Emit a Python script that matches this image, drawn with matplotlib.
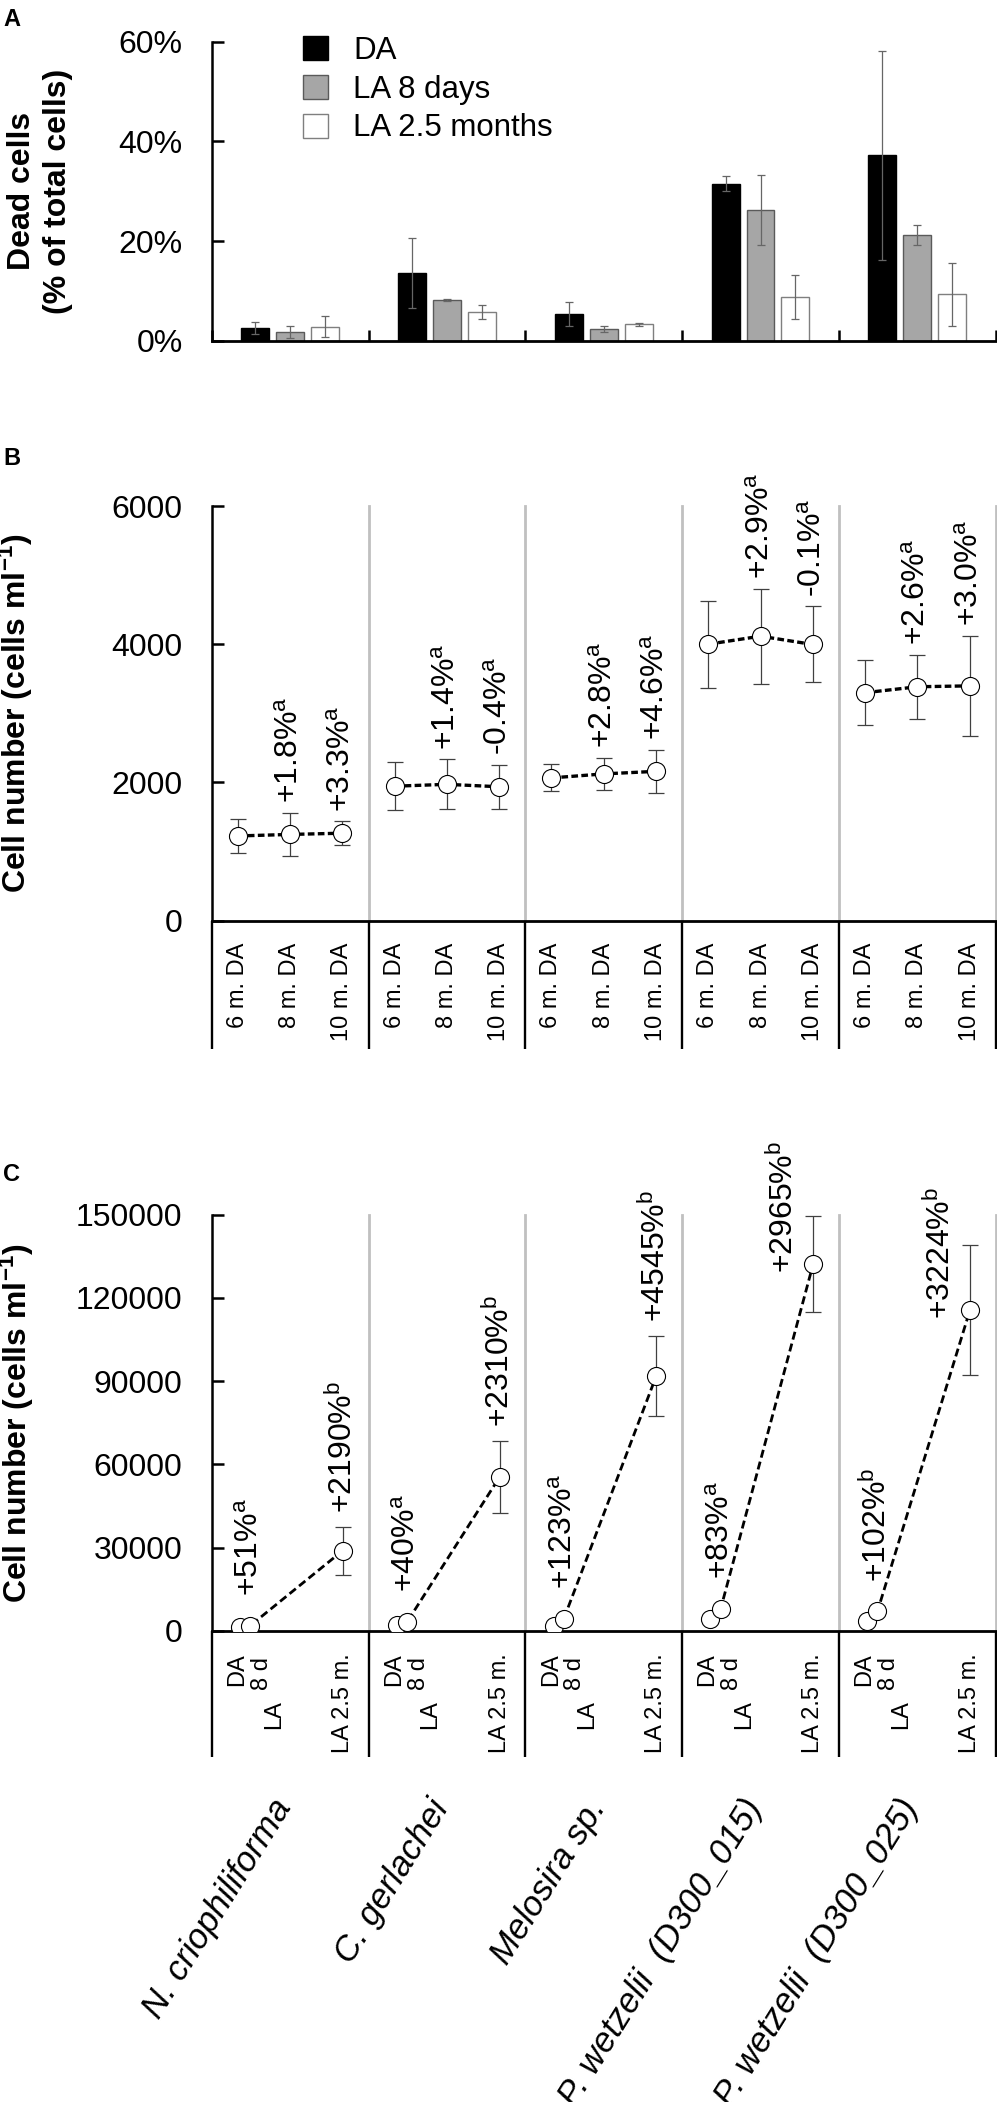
import matplotlib
matplotlib.use("Agg")
import matplotlib.pyplot as plt
import numpy as np

plt.rcParams['font.family'] = ['Liberation Sans', 'DejaVu Sans']
plt.rcParams['mathtext.fontset'] = 'custom'
plt.rcParams['mathtext.rm'] = 'Liberation Sans'
plt.rcParams['mathtext.it'] = 'Liberation Sans:italic'
plt.rcParams['mathtext.bf'] = 'Liberation Sans:bold'

# ---- data ----
species = ['N. criophiliforma', 'C. gerlachei', 'Melosira sp.',
           'P. wetzelii  (D300_015)', 'P. wetzelii  (D300_025)']

# panel A: dead cells (% of total)
dead_da = [2.5, 13.6, 5.3, 31.5, 37.2]
dead_da_err = [1.25, 7.0, 2.4, 1.5, 21.0]
dead_la8 = [1.8, 8.2, 2.3, 26.3, 21.2]
dead_la8_err = [1.2, 0.2, 0.6, 7.0, 2.0]
dead_la25 = [2.8, 5.7, 3.3, 8.8, 9.3]
dead_la25_err = [2.1, 1.4, 0.3, 4.4, 6.3]

# panel B: cell number in the dark
b_labels = ['6 m. DA', '8 m. DA', '10 m. DA']
b_mean = [[1225, 1247, 1265], [1945, 1972, 1937], [2065, 2123, 2160],
          [4000, 4116, 3996], [3298, 3384, 3397]]
b_err = [[240, 310, 170], [350, 360, 320], [195, 230, 310],
         [630, 690, 550], [470, 460, 725]]
b_pct = [['+1.8%', '+3.3%'], ['+1.4%', '-0.4%'], ['+2.8%', '+4.6%'],
         ['+2.9%', '-0.1%'], ['+2.6%', '+3.0%']]
b_sig = [['a', 'a'], ['a', 'a'], ['a', 'a'], ['a', 'a'], ['a', 'a']]

# panel C: cell number after light (time in days)
c_days = [0, 8, 80]
c_da = [1265, 2300, 1980, 4313, 3478]
c_la8 = [1910, 3220, 4415, 7893, 7025]
c_la25 = [28970, 55430, 91970, 132200, 115600]
c_da_err = [200, 300, 300, 400, 400]
c_la8_err = [300, 400, 500, 600, 600]
c_la25_err = [8650, 12900, 14400, 17400, 23500]
c_pct8 = ['+51%', '+40%', '+123%', '+83%', '+102%']
c_sig8 = ['a', 'a', 'a', 'a', 'b']
c_pct25 = ['+2190%', '+2310%', '+4545%', '+2965%', '+3224%']
c_sig25 = ['b', 'b', 'b', 'b', 'b']

W, H = 997, 2102
fig = plt.figure(figsize=(W / 100, H / 100), dpi=100)


def px_axes(top, bottom, left=211.7, right=995.7):
    return fig.add_axes([left / W, 1 - bottom / H, (right - left) / W, (bottom - top) / H])


def style_axes(ax):
    for s in ('top', 'right'):
        ax.spines[s].set_visible(False)
    ax.spines['left'].set_linewidth(1.8)
    ax.spines['bottom'].set_linewidth(2.0)
    ax.tick_params(axis='y', direction='in', length=8.5, width=1.8, labelsize=23, pad=21)


n = len(species)
GREY = '#c0c0c0'
ERR = dict(ecolor='#404040', elinewidth=0.9, capsize=5.5, capthick=0.9)

# ---------- panel A ----------
ax_a = px_axes(41.7, 340.7)
style_axes(ax_a)
centers = np.arange(n) + 0.5
bw = 28 / 157
step = 35 / 157
series = [(dead_da, dead_da_err, 'black', 'black', 'DA'),
          (dead_la8, dead_la8_err, '#a6a6a6', '#5a5a5a', 'LA 8 days'),
          (dead_la25, dead_la25_err, 'white', '#7f7f7f', 'LA 2.5 months')]
handles = []
for k, (vals, errs, fc, ec, lab) in enumerate(series):
    h = ax_a.bar(centers + (k - 1) * step, vals, bw, yerr=errs, color=fc,
                 edgecolor=ec, linewidth=1.0, label=lab,
                 error_kw=dict(ecolor='#666666', elinewidth=0.9, capsize=3, capthick=0.9))
    handles.append(h)
ax_a.set_xlim(0, n)
ax_a.set_ylim(0, 60)
ax_a.set_yticks([0, 20, 40, 60])
ax_a.set_yticklabels([f'{v}%' for v in [0, 20, 40, 60]])
ax_a.set_xticks(np.arange(n + 1))
ax_a.tick_params(axis='x', direction='in', length=8, width=1.8, labelbottom=False)
ax_a.legend(handles=handles, loc='upper left', bbox_to_anchor=(303 / W, 1 - 36 / H),
            bbox_transform=fig.transFigure, frameon=False, fontsize=22.5,
            handlelength=0.8, handleheight=0.8, handletextpad=0.8,
            labelspacing=0.28, borderpad=0, borderaxespad=0)
fig.text(40 / W, 1 - 191 / H, 'Dead cells\n(% of total cells)', rotation=90,
         ha='center', va='center', fontsize=23, fontweight='bold', linespacing=1.25)

# ---------- panel B ----------
ax_b = px_axes(506, 920.6)
style_axes(ax_b)
pos_b = np.array([1, 3, 5]) / 6
for xb in range(1, n + 1):
    ax_b.axvline(xb, color=GREY, lw=2, zorder=0, clip_on=False)
for i in range(n):
    x = i + pos_b
    ax_b.errorbar(x, b_mean[i], yerr=b_err[i], fmt='none', zorder=2, **ERR)
    ax_b.plot(x, b_mean[i], color='black', lw=2.4, ls=(0, (2, 1)), zorder=3)
    ax_b.plot(x, b_mean[i], 'o', ms=13, mfc='white', mec='black', mew=0.8, zorder=4)
    for j in (1, 2):
        ax_b.annotate(b_pct[i][j - 1] + r'$^{\mathrm{' + b_sig[i][j - 1] + '}}$',
                      xy=(x[j], b_mean[i][j] + b_err[i][j]), xytext=(0, 7),
                      textcoords='offset points', rotation=90, ha='center',
                      va='bottom', fontsize=23)
    for j in range(3):
        ax_b.annotate(b_labels[j], xy=(x[j], 0), xycoords=('data', 'axes fraction'),
                      xytext=(0, -16), textcoords='offset points', rotation=90,
                      ha='center', va='top', fontsize=17)
ax_b.set_xlim(0, n)
ax_b.set_ylim(0, 6000)
ax_b.set_yticks([0, 2000, 4000, 6000])
ax_b.set_xticks(np.arange(n + 1))
ax_b.tick_params(axis='x', direction='out', length=92, width=1.7, labelbottom=False)
fig.text(16 / W, 1 - 713 / H, r'Cell number (cells ml$^{\mathbf{-1}}$)', rotation=90,
         ha='center', va='center', fontsize=23, fontweight='bold')

# ---------- panel C ----------
ax_c = px_axes(1214.5, 1631)
style_axes(ax_c)
for xb in range(1, n + 1):
    ax_c.axvline(xb, color=GREY, lw=2, zorder=0, clip_on=False)
day_pos = 0.18 + np.array(c_days) * 0.0082
ymax_c = 150000
for i in range(n):
    x = i + day_pos
    y = [c_da[i], c_la8[i], c_la25[i]]
    e = [c_da_err[i], c_la8_err[i], c_la25_err[i]]
    ax_c.errorbar(x, y, yerr=e, fmt='none', zorder=2, **ERR)
    ax_c.plot(x, y, color='black', lw=2.0, ls=(0, (2.9, 1.5)), zorder=3)
    ax_c.plot(x, y, 'o', ms=13, mfc='white', mec='black', mew=0.8, zorder=4)
    ax_c.annotate(c_pct8[i] + r'$^{\mathrm{' + c_sig8[i] + '}}$', xy=(x[1], y[1]),
                  xytext=(0, 21.5), textcoords='offset points', rotation=90,
                  ha='center', va='bottom', fontsize=23)
    lab25 = c_pct25[i] + r'$^{\mathrm{' + c_sig25[i] + '}}$'
    if y[2] + e[2] > 0.8 * ymax_c:
        ax_c.annotate(lab25, xy=(x[2], y[2]), xytext=(-21, -6.5),
                      textcoords='offset points', rotation=90, ha='center',
                      va='bottom', fontsize=23)
    else:
        ax_c.annotate(lab25, xy=(x[2], y[2] + e[2]), xytext=(0, 10),
                      textcoords='offset points', rotation=90, ha='center',
                      va='bottom', fontsize=23)
    # category labels under the axis
    kw = dict(xycoords=('data', 'axes fraction'), textcoords='offset points',
              rotation=90, ha='center', va='top', fontsize=17)
    ax_c.annotate('DA', xy=(x[0], 0), xytext=(-2, -16), **kw)
    ax_c.annotate('8 d', xy=(x[1], 0), xytext=(8.3, -18.7), **kw)
    ax_c.annotate('LA', xy=(x[1], 0), xytext=(17, -49.7), **kw)
    ax_c.annotate('LA 2.5 m.', xy=(x[2], 0), xytext=(0, -16), **kw)
    # species name
    ax_c.annotate(species[i], xy=(i + 0.5, 0), xycoords=('data', 'axes fraction'),
                  xytext=(6, -117), textcoords='offset points', rotation=58,
                  ha='right', va='top', fontsize=25, fontstyle='italic')
ax_c.set_xlim(0, n)
ax_c.set_ylim(0, ymax_c)
ax_c.set_yticks([0, 30000, 60000, 90000, 120000, 150000])
ax_c.set_xticks(np.arange(n + 1))
ax_c.tick_params(axis='x', direction='out', length=91, width=1.7, labelbottom=False)
fig.text(17 / W, 1 - 1422.7 / H, r'Cell number (cells ml$^{\mathbf{-1}}$)', rotation=90,
         ha='center', va='center', fontsize=23, fontweight='bold')

# panel letters
for letter, top in (('A', 8), ('B', 447), ('C', 1163)):
    fig.text(3 / W, 1 - top / H, letter, fontsize=17, fontweight='bold', ha='left', va='top')

fig.savefig('out.png', dpi=100)
